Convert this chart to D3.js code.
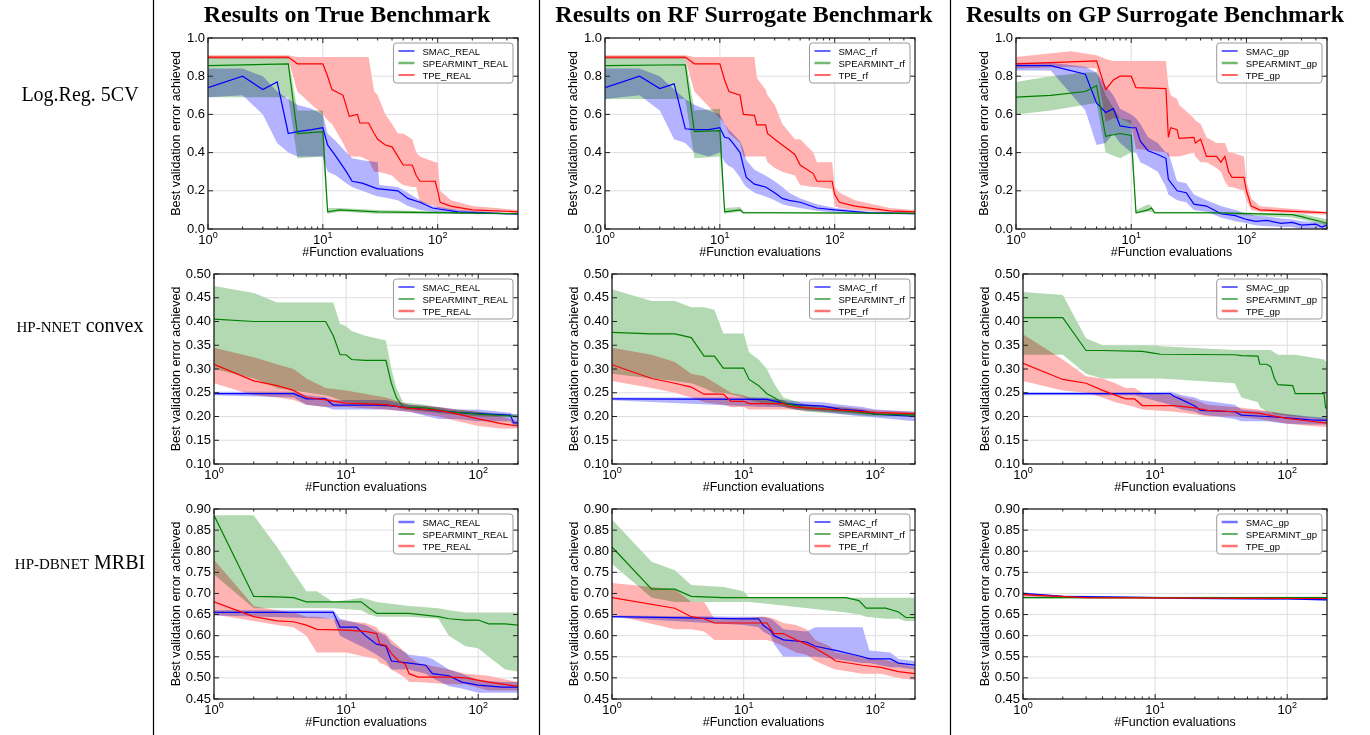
<!DOCTYPE html>
<html>
<head>
<meta charset="utf-8">
<script src="https://cdn.jsdelivr.net/npm/d3@7"></script>
<style>
body { margin: 0; background: #fff; }
text { font-family: "Liberation Sans", Arial, sans-serif; fill: #000; }
.serif { font-family: "Liberation Serif", "Times New Roman", serif; }
</style>
</head>
<body>
<svg id="chart" width="1370" height="735"></svg>
<script>
const colTitles = ['Results on True Benchmark', 'Results on RF Surrogate Benchmark', 'Results on GP Surrogate Benchmark'];
const methods = ['SMAC', 'SPEARMINT', 'TPE'];
const suffixes = ['REAL', 'rf', 'gp'];
const colors = ['#0000ff', '#008000', '#ff0000'];
const bandColors = ['#b3b3ff', '#b3d9b3', '#ffb3b3'];
const xMax = [500, 200, 200];
const yDomains = [[0, 1], [0.10, 0.50], [0.45, 0.90]];
const yTicks = [
	[0, 0.2, 0.4, 0.6, 0.8, 1.0],
	[0.10, 0.15, 0.20, 0.25, 0.30, 0.35, 0.40, 0.45, 0.50],
	[0.45, 0.50, 0.55, 0.60, 0.65, 0.70, 0.75, 0.80, 0.85, 0.90]
];
// which legend handles look like a pale, thick band in each panel (row-major)
const legendPale = [[0, 1, 0], [0, 1, 0], [0, 1, 0], [0, 0, 1], [0, 0, 1], [0, 0, 1], [1, 0, 1], [0, 0, 1], [1, 0, 1]];

// each row: [evaluations, mean, lower, upper]
const trueLogregSmac = [[1,.74,.69,.84],[2,.80,.70,.84],[3,.73,.60,.80],[4,.77,.45,.72],[5,.50,.40,.68],[6,.51,.38,.65],[8,.52,.38,.63],[10,.53,.38,.60],[11,.44,.30,.50],[13,.38,.28,.46],[16,.30,.24,.40],[18,.25,.22,.37],[22,.24,.20,.36],[30,.21,.17,.35],[31,.21,.17,.23],[45,.20,.15,.22],[55,.16,.12,.19],[70,.14,.10,.15],[90,.11,.09,.12],[150,.09,.08,.10],[500,.078,.075,.08]];
const trueLogregSpearmint = [[1,.855,.69,.90],[5,.865,.69,.90],[6,.50,.37,.62],[10,.51,.38,.62],[11,.09,.08,.11],[14,.10,.09,.11],[30,.09,.08,.10],[500,.08,.078,.082]];
const trueLogregTpe = [[1,.90,.89,.91],[5,.90,.89,.91],[6,.865,.72,.90],[8,.865,.65,.90],[10,.865,.60,.90],[11,.80,.57,.90],[12,.73,.55,.90],[15,.70,.45,.90],[17,.59,.38,.90],[20,.60,.38,.90],[21,.555,.38,.90],[25,.555,.36,.90],[28,.50,.30,.72],[30,.47,.30,.70],[35,.44,.29,.60],[40,.43,.28,.55],[45,.38,.25,.50],[50,.335,.23,.50],[60,.335,.22,.47],[65,.28,.22,.40],[70,.25,.14,.38],[95,.25,.12,.35],[100,.20,.11,.35],[105,.14,.11,.20],[130,.12,.10,.15],[200,.10,.09,.12],[500,.09,.085,.10]];

const rfLogregSmac = [[1,.74,.68,.84],[2,.80,.70,.84],[3,.735,.62,.80],[4,.76,.47,.73],[5,.525,.45,.68],[6,.52,.40,.65],[8,.52,.38,.62],[10,.53,.40,.60],[11,.48,.35,.55],[12,.475,.33,.52],[13,.45,.32,.50],[15,.40,.27,.46],[16,.33,.24,.42],[17,.27,.22,.36],[20,.235,.19,.31],[25,.22,.17,.28],[30,.19,.15,.25],[35,.16,.13,.22],[40,.15,.12,.19],[50,.14,.11,.16],[70,.11,.095,.13],[100,.10,.085,.11],[200,.085,.08,.09],[500,.08,.075,.085]];
const rfLogregSpearmint = [[1,.855,.68,.90],[5,.86,.68,.90],[6,.51,.37,.62],[10,.515,.38,.63],[11,.09,.08,.11],[15,.10,.09,.115],[16,.085,.08,.09],[30,.085,.08,.09],[500,.082,.078,.086]];
const rfLogregTpe = [[1,.90,.89,.91],[5,.90,.89,.91],[6,.865,.72,.90],[10,.865,.58,.90],[11,.78,.55,.90],[12,.72,.50,.90],[15,.70,.45,.90],[16,.60,.38,.90],[20,.595,.38,.90],[21,.545,.38,.79],[25,.545,.38,.73],[26,.50,.35,.70],[30,.47,.32,.65],[35,.44,.30,.55],[45,.39,.28,.47],[50,.335,.23,.47],[65,.29,.22,.40],[70,.25,.22,.35],[95,.25,.21,.35],[100,.18,.12,.22],[110,.14,.11,.19],[150,.12,.10,.15],[300,.095,.085,.11],[500,.09,.085,.10]];

const gpLogregSmac = [[1,.855,.83,.87],[2,.855,.83,.87],[4,.81,.62,.85],[5,.66,.44,.82],[6,.61,.45,.75],[7,.63,.50,.70],[8,.54,.45,.63],[10,.53,.40,.60],[11,.53,.40,.58],[12,.46,.35,.55],[14,.41,.33,.48],[17,.39,.30,.45],[20,.37,.22,.40],[21,.26,.18,.40],[25,.20,.15,.25],[30,.19,.14,.24],[35,.13,.10,.18],[45,.12,.09,.15],[60,.08,.06,.12],[80,.07,.04,.10],[100,.05,.03,.08],[120,.04,.02,.07],[150,.045,.015,.065],[200,.03,.01,.055],[250,.035,.01,.05],[300,.02,0,.04],[400,.025,0,.035],[450,.01,0,.03],[500,.02,0,.03]];
const gpLogregSpearmint = [[1,.69,.60,.77],[2,.70,.62,.80],[4,.72,.65,.82],[5,.75,.66,.82],[6,.485,.40,.70],[8,.50,.37,.58],[10,.49,.40,.57],[11,.085,.08,.10],[14,.10,.09,.13],[15,.11,.09,.12],[16,.085,.08,.09],[50,.085,.08,.09],[250,.075,.06,.08],[300,.065,.05,.08],[500,.03,.02,.05]];
const gpLogregTpe = [[1,.865,.84,.90],[3,.875,.85,.93],[5,.88,.84,.91],[6,.73,.56,.89],[7,.78,.58,.88],[8,.80,.58,.88],[10,.80,.55,.88],[11,.74,.42,.88],[20,.735,.40,.88],[21,.48,.38,.75],[22,.53,.38,.70],[25,.52,.38,.68],[26,.475,.38,.65],[35,.48,.40,.58],[36,.45,.38,.57],[40,.47,.35,.55],[45,.38,.35,.48],[55,.38,.32,.45],[60,.35,.30,.45],[65,.38,.25,.45],[70,.30,.22,.40],[75,.27,.22,.40],[95,.27,.20,.38],[100,.20,.15,.25],[110,.12,.10,.16],[130,.10,.09,.12],[200,.095,.085,.11],[500,.085,.075,.09]];

const trueNnetSmac = [[1,.248,.245,.252],[4,.248,.24,.252],[5,.237,.225,.245],[7,.237,.22,.24],[8,.224,.215,.235],[20,.224,.215,.235],[30,.218,.21,.225],[50,.212,.195,.22],[70,.208,.195,.215],[100,.206,.19,.215],[175,.203,.19,.208],[185,.187,.18,.205],[200,.186,.18,.205]];
const trueNnetSpearmint = [[1,.405,.30,.475],[2,.40,.28,.46],[3,.40,.26,.44],[7,.40,.245,.44],[8,.37,.24,.44],[9,.33,.235,.395],[10,.33,.23,.39],[11,.32,.23,.38],[14,.318,.225,.37],[20,.318,.22,.36],[22,.27,.22,.30],[24,.24,.22,.26],[27,.22,.215,.23],[40,.218,.21,.225],[60,.21,.205,.215],[100,.205,.20,.21],[200,.20,.198,.204]];
const trueNnetTpe = [[1,.31,.27,.345],[2,.275,.245,.325],[3,.265,.24,.31],[4,.255,.235,.30],[5,.24,.225,.28],[7,.235,.22,.26],[10,.228,.22,.255],[20,.225,.215,.24],[30,.217,.21,.225],[50,.213,.20,.22],[70,.205,.19,.215],[100,.195,.18,.21],[150,.185,.175,.20],[200,.18,.175,.19]];

const rfNnetSmac = [[1,.237,.234,.240],[15,.236,.22,.24],[20,.228,.22,.235],[25,.225,.215,.232],[40,.222,.21,.23],[55,.215,.205,.225],[80,.212,.20,.22],[100,.205,.198,.215],[200,.20,.19,.21]];
const rfNnetSpearmint = [[1,.377,.29,.468],[2,.374,.28,.443],[3,.374,.275,.443],[4,.366,.27,.43],[5,.327,.26,.43],[6,.327,.25,.425],[7,.302,.25,.375],[10,.302,.24,.375],[11,.278,.235,.335],[13,.265,.23,.32],[15,.248,.225,.30],[17,.24,.225,.27],[20,.228,.22,.24],[30,.218,.21,.225],[60,.212,.205,.218],[100,.205,.20,.21],[200,.203,.20,.206]];
const rfNnetTpe = [[1,.309,.275,.345],[2,.28,.26,.33],[3,.27,.25,.315],[4,.262,.24,.29],[5,.247,.23,.285],[7,.247,.225,.26],[8,.232,.22,.25],[10,.232,.22,.245],[11,.227,.215,.24],[20,.227,.215,.235],[22,.221,.215,.228],[30,.218,.212,.225],[60,.213,.208,.22],[100,.208,.203,.213],[200,.206,.202,.21]];

const gpNnetSmac = [[1,.248,.245,.251],[7,.248,.245,.251],[13,.248,.225,.252],[14,.242,.22,.25],[16,.235,.215,.245],[20,.222,.21,.24],[22,.213,.205,.235],[40,.21,.195,.225],[45,.203,.19,.215],[70,.20,.19,.21],[100,.197,.185,.205],[150,.193,.183,.20],[200,.192,.183,.198]];
const gpNnetSpearmint = [[1,.408,.33,.462],[2,.408,.33,.456],[3,.339,.29,.365],[4,.339,.28,.35],[8,.337,.28,.35],[10,.333,.28,.35],[11,.331,.28,.348],[40,.33,.27,.34],[45,.328,.24,.34],[60,.327,.23,.34],[62,.31,.22,.34],[70,.31,.21,.34],[75,.305,.21,.34],[80,.28,.205,.335],[85,.267,.205,.33],[110,.265,.20,.33],[115,.248,.20,.33],[190,.248,.195,.32],[195,.218,.195,.316],[200,.218,.195,.316]];
const gpNnetTpe = [[1,.312,.275,.373],[2,.278,.255,.32],[3,.27,.25,.285],[4,.255,.24,.28],[5,.245,.23,.27],[6,.237,.225,.26],[7,.237,.22,.26],[8,.223,.215,.25],[14,.223,.21,.245],[20,.218,.205,.235],[25,.213,.20,.225],[40,.21,.20,.22],[60,.207,.195,.215],[100,.196,.185,.205],[150,.19,.18,.198],[200,.186,.178,.195]];

const trueDbnetSmac = [[1,.655,.648,.66],[8,.655,.64,.66],[9,.62,.60,.64],[12,.62,.58,.63],[14,.60,.57,.625],[17,.58,.555,.61],[20,.575,.54,.60],[22,.54,.52,.58],[30,.535,.52,.555],[40,.53,.51,.55],[45,.51,.50,.545],[60,.505,.48,.52],[75,.49,.475,.51],[100,.483,.465,.495],[150,.478,.465,.49],[200,.478,.465,.49]];
const trueDbnetSpearmint = [[1,.885,.745,.885],[2,.693,.665,.885],[3,.692,.665,.81],[4,.69,.665,.75],[5,.68,.665,.705],[6,.68,.665,.705],[8,.68,.665,.68],[13,.68,.66,.69],[15,.665,.65,.685],[17,.653,.645,.68],[30,.653,.645,.67],[50,.645,.64,.665],[60,.64,.60,.66],[80,.637,.575,.655],[100,.637,.57,.655],[120,.628,.55,.655],[160,.628,.52,.655],[200,.625,.515,.655]];
const trueDbnetTpe = [[1,.68,.65,.78],[2,.645,.635,.67],[3,.635,.625,.66],[4,.633,.62,.655],[5,.625,.60,.645],[6,.615,.56,.645],[10,.613,.56,.635],[14,.61,.55,.63],[17,.605,.545,.62],[18,.58,.535,.61],[20,.577,.53,.605],[22,.558,.52,.59],[25,.54,.51,.575],[28,.533,.50,.56],[30,.51,.49,.55],[35,.502,.49,.535],[60,.502,.485,.52],[80,.50,.485,.51],[120,.49,.47,.505],[200,.48,.47,.49]];

const rfDbnetSmac = [[1,.645,.643,.648],[10,.64,.625,.645],[13,.64,.62,.645],[14,.625,.61,.645],[16,.612,.60,.64],[17,.60,.58,.635],[20,.59,.55,.615],[30,.585,.55,.61],[35,.575,.55,.62],[50,.565,.545,.62],[80,.55,.535,.62],[90,.545,.535,.565],[130,.545,.525,.56],[150,.535,.525,.545],[200,.53,.52,.54]];
const rfDbnetSpearmint = [[1,.81,.77,.875],[2,.71,.69,.775],[3,.71,.68,.755],[4,.693,.68,.72],[7,.69,.68,.715],[10,.69,.68,.705],[11,.69,.68,.69],[60,.69,.655,.69],[75,.683,.65,.69],[85,.665,.645,.69],[120,.665,.64,.69],[150,.656,.64,.69],[170,.643,.635,.69],[200,.643,.635,.69]];
const rfDbnetTpe = [[1,.69,.65,.725],[3,.665,.615,.71],[4,.645,.615,.68],[5,.64,.61,.68],[6,.63,.59,.64],[15,.63,.59,.645],[17,.605,.585,.64],[20,.605,.575,.63],[25,.59,.56,.625],[30,.58,.555,.615],[35,.57,.54,.59],[45,.55,.525,.575],[50,.54,.52,.56],[80,.53,.51,.55],[110,.525,.51,.545],[150,.515,.50,.535],[200,.51,.495,.525]];

const gpDbnetSmac = [[1,.70,.695,.702],[2,.693,.69,.695],[10,.69,.688,.692],[20,.688,.686,.69],[100,.687,.685,.689],[200,.685,.683,.687]];
const gpDbnetSpearmint = [[1,.69,.688,.692],[200,.69,.688,.692]];
const gpDbnetTpe = [[1,.697,.692,.70],[3,.69,.688,.692],[200,.688,.686,.69]];

const grid = [
	[[trueLogregSmac, trueLogregSpearmint, trueLogregTpe], [rfLogregSmac, rfLogregSpearmint, rfLogregTpe], [gpLogregSmac, gpLogregSpearmint, gpLogregTpe]],
	[[trueNnetSmac, trueNnetSpearmint, trueNnetTpe], [rfNnetSmac, rfNnetSpearmint, rfNnetTpe], [gpNnetSmac, gpNnetSpearmint, gpNnetTpe]],
	[[trueDbnetSmac, trueDbnetSpearmint, trueDbnetTpe], [rfDbnetSmac, rfDbnetSpearmint, rfDbnetTpe], [gpDbnetSmac, gpDbnetSpearmint, gpDbnetTpe]]
];

const svg = d3.select('#chart');

// layout
const rowTop = [38, 274, 509];
const rowBottom = [229, 464, 699];
const colLeft = [[208, 605, 1016], [214, 612, 1023], [214, 612, 1023]];
const colRight = [518, 915, 1327];
const titleX = [347, 744, 1155];

// separators
[153, 539, 950].forEach((x) => {
	svg.append('line').attr('x1', x + 0.5).attr('x2', x + 0.5).attr('y1', 0).attr('y2', 735)
		.attr('stroke', '#000').attr('stroke-width', 1.2);
});

colTitles.forEach((t, i) => {
	svg.append('text').attr('class', 'serif').attr('x', titleX[i]).attr('y', 22)
		.attr('text-anchor', 'middle').style('font-size', '24px').style('font-weight', 'bold').text(t);
});

// row labels ([text, small caps])
const rl = [
	{ y: 101, parts: [['Log.Reg. 5CV', false]] },
	{ y: 332, parts: [['HP-NNET', true], [' convex', false]] },
	{ y: 569, parts: [['HP-DBNET', true], [' MRBI', false]] }
];
rl.forEach((r) => {
	const t = svg.append('text').attr('class', 'serif').attr('x', 80).attr('y', r.y)
		.attr('text-anchor', 'middle').style('font-size', '20px');
	r.parts.forEach((p) => {
		t.append('tspan').style('font-size', p[1] ? '15px' : '20px').text(p[0]);
	});
});

let clipId = 0;
for (let r = 0; r < 3; r++) {
	for (let c = 0; c < 3; c++) {
		drawPanel(r, c);
	}
}

function drawPanel (r, c) {
	const left = colLeft[r][c], right = colRight[c], top = rowTop[r], bottom = rowBottom[r];
	const x = d3.scaleLog().domain([1, xMax[r]]).range([left, right]);
	const y = d3.scaleLinear().domain(yDomains[r]).range([bottom, top]);
	const g = svg.append('g');
	const id = 'clip' + clipId++;
	g.append('clipPath').attr('id', id).append('rect')
		.attr('x', left).attr('y', top).attr('width', right - left).attr('height', bottom - top);

	const majors = [1, 10, 100];
	const minors = [];
	for (let d = 1; d <= 100; d *= 10) for (let k = 2; k <= 9; k++) if (d * k <= xMax[r]) minors.push(d * k);

	// grid
	const gg = g.append('g').attr('stroke', '#dedede').attr('stroke-width', 1);
	majors.forEach((v) => gg.append('line').attr('x1', x(v)).attr('x2', x(v)).attr('y1', top).attr('y2', bottom));
	yTicks[r].forEach((v) => gg.append('line').attr('x1', left).attr('x2', right).attr('y1', y(v)).attr('y2', y(v)));

	const plot = g.append('g').attr('clip-path', `url(#${id})`);
	const series = grid[r][c];
	const area = d3.area().x((d) => x(d[0])).y0((d) => y(d[2])).y1((d) => y(d[3]));
	const line = d3.line().x((d) => x(d[0])).y((d) => y(d[1]));
	const bands = plot.append('g').style('isolation', 'isolate');
	series.forEach((s, i) => {
		bands.append('path').datum(s).attr('d', area).attr('fill', bandColors[i])
			.style('mix-blend-mode', 'multiply');
	});
	series.forEach((s, i) => {
		plot.append('path').datum(s).attr('d', line).attr('fill', 'none')
			.attr('stroke', colors[i]).attr('stroke-width', 1.2);
	});

	// frame and ticks
	const tk = g.append('g').attr('stroke', '#222').attr('stroke-width', 1);
	majors.forEach((v) => {
		tk.append('line').attr('x1', x(v)).attr('x2', x(v)).attr('y1', bottom).attr('y2', bottom - 5);
		tk.append('line').attr('x1', x(v)).attr('x2', x(v)).attr('y1', top).attr('y2', top + 5);
	});
	minors.forEach((v) => {
		tk.append('line').attr('x1', x(v)).attr('x2', x(v)).attr('y1', bottom).attr('y2', bottom - 2.5);
		tk.append('line').attr('x1', x(v)).attr('x2', x(v)).attr('y1', top).attr('y2', top + 2.5);
	});
	yTicks[r].forEach((v) => {
		tk.append('line').attr('x1', left).attr('x2', left + 5).attr('y1', y(v)).attr('y2', y(v));
		tk.append('line').attr('x1', right).attr('x2', right - 5).attr('y1', y(v)).attr('y2', y(v));
	});
	g.append('rect').attr('x', left).attr('y', top).attr('width', right - left).attr('height', bottom - top)
		.attr('fill', 'none').attr('stroke', '#222').attr('stroke-width', 1.3);

	// tick labels
	majors.forEach((v, i) => {
		const t = g.append('text').attr('x', x(v)).attr('y', bottom + 15).attr('text-anchor', 'middle')
			.style('font-size', '13px');
		t.append('tspan').text('10');
		t.append('tspan').attr('dy', -6).style('font-size', '9px').text(i);
	});
	const fmt = d3.format(r === 0 ? '.1f' : '.2f');
	yTicks[r].forEach((v) => {
		g.append('text').attr('x', left - 3).attr('y', y(v) + 3.5).attr('text-anchor', 'end')
			.style('font-size', '13px').text(fmt(v));
	});

	g.append('text').attr('x', (left + right) / 2).attr('y', bottom + 27).attr('text-anchor', 'middle')
		.style('font-size', '12.5px').text('#Function evaluations');
	const ly = (top + bottom) / 2, lx = left - (r === 0 ? 28 : 34);
	g.append('text').attr('transform', `translate(${lx},${ly}) rotate(-90)`).attr('text-anchor', 'middle')
		.style('font-size', '12.5px').text('Best validation error achieved');

	// legend
	const pale = legendPale[r * 3 + c];
	const lg = g.append('g');
	const box = lg.append('rect').attr('rx', 3).attr('fill', '#fff').attr('fill-opacity', 0.85)
		.attr('stroke', '#999').attr('stroke-width', 1);
	let maxW = 0;
	methods.forEach((m, i) => {
		const yy = 8 + i * 12;
		lg.append('line').attr('x1', 5).attr('x2', 21).attr('y1', yy).attr('y2', yy)
			.attr('stroke', colors[i]).attr('stroke-width', pale[i] ? 2.5 : 1.2)
			.attr('stroke-opacity', pale[i] ? 0.55 : 1);
		const t = lg.append('text').attr('x', 29).attr('y', yy + 3.5).style('font-size', '9.5px')
			.text(m + '_' + suffixes[c]);
		maxW = Math.max(maxW, t.node().getComputedTextLength());
	});
	const w = 29 + maxW + 5;
	box.attr('width', w).attr('height', 40);
	lg.attr('transform', `translate(${right - 5 - w},${top + 5})`);
}
</script>
</body>
</html>
